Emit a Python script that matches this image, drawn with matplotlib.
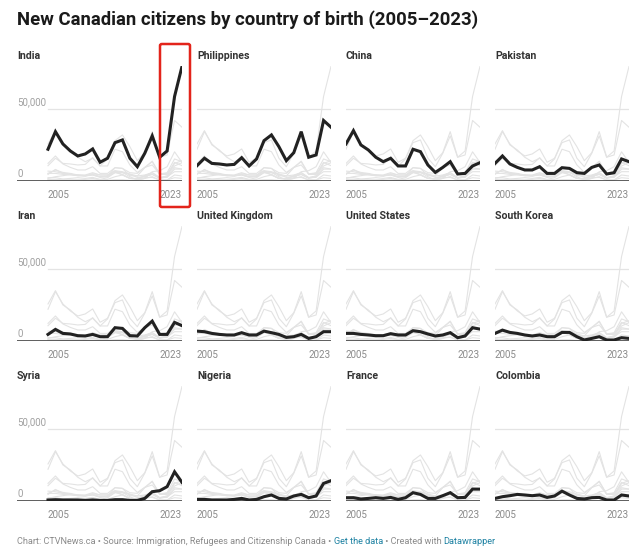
import matplotlib.pyplot as plt
import matplotlib.patches as mpatches
from matplotlib.transforms import blended_transform_factory
import numpy as np

plt.rcParams['font.family'] = ['Roboto', 'DejaVu Sans']

W, H = 640, 555

years = list(range(2005, 2024))

# new citizens, thousands
india = [22.0, 34.3, 25.7, 20.8, 17.3, 18.7, 22.2, 12.9, 15.7, 26.6,
         28.5, 15.7, 9.8, 19.2, 31.3, 16.4, 20.8, 58.9, 79.9]
philippines = [10.5, 15.7, 12.1, 11.7, 11.0, 11.4, 16.1, 10.3, 15.2, 28.0,
               32.0, 23.8, 14.0, 19.6, 34.3, 16.4, 18.0, 42.1, 37.4]
china = [25.7, 35.0, 25.0, 21.5, 16.4, 13.3, 15.7, 10.3, 10.3, 22.0,
         20.3, 11.0, 5.8, 9.3, 13.3, 4.7, 5.1, 10.3, 12.6]
pakistan = [12.1, 17.3, 11.7, 9.3, 7.5, 7.5, 9.8, 5.1, 5.1, 9.1,
            8.6, 5.6, 5.1, 9.3, 11.0, 4.7, 5.6, 15.2, 13.3]
iran = [4.4, 7.9, 5.1, 4.7, 3.5, 3.3, 4.4, 2.8, 2.8, 9.1,
        8.6, 3.5, 3.3, 9.1, 13.7, 4.4, 4.4, 12.8, 10.5]
uk = [6.7, 6.3, 5.1, 4.4, 4.0, 4.0, 5.6, 4.0, 4.0, 6.7,
      5.6, 4.4, 2.3, 2.8, 4.4, 1.6, 2.8, 6.3, 6.3]
us = [5.1, 5.1, 4.4, 4.0, 3.5, 3.5, 4.9, 4.0, 4.0, 7.0,
      6.3, 4.7, 3.3, 4.0, 5.6, 2.1, 3.3, 9.1, 8.1]
south_korea = [5.1, 7.4, 5.8, 5.1, 4.0, 3.3, 4.0, 2.8, 2.8, 5.8,
               5.8, 2.8, 0.5, 1.6, 2.8, 0.5, 0.5, 2.1, 1.6]
syria = [0.5, 0.7, 0.5, 0.5, 0.5, 0.2, 0.5, 0.2, 0.2, 0.7,
         0.7, 0.2, 0.2, 1.6, 6.3, 7.0, 9.8, 20.2, 12.8]
nigeria = [0.9, 0.9, 0.5, 0.5, 0.5, 0.9, 1.6, 0.5, 0.9, 2.8,
           4.0, 1.6, 1.2, 3.3, 4.4, 2.1, 3.3, 12.1, 14.0]
france = [2.1, 2.1, 1.2, 1.6, 2.1, 1.6, 2.3, 0.9, 2.1, 5.6,
          4.4, 1.6, 1.6, 3.5, 5.6, 2.1, 2.3, 8.1, 8.1]
colombia = [1.6, 2.8, 3.5, 4.4, 4.0, 3.5, 4.0, 2.3, 3.3, 6.7,
            4.0, 1.6, 1.2, 2.1, 2.3, 0.5, 0.5, 4.0, 3.3]

countries = ["India", "Philippines", "China", "Pakistan",
             "Iran", "United Kingdom", "United States", "South Korea",
             "Syria", "Nigeria", "France", "Colombia"]
series = [india, philippines, china, pakistan,
          iran, uk, us, south_korea,
          syria, nigeria, france, colombia]


def fx(px):
    return px / W


def fy(py):
    return 1 - py / H


fig = plt.figure(figsize=(W / 100, H / 100), dpi=100)

col_left = [48, 197, 346, 495]
col_w = 134
row_base = [180.7, 340.7, 500.7]
ymax = 80000
px_per_unit = 71.5 / 50000
row_h = ymax * px_per_unit
year_px = col_w / 18

for i, (name, vals) in enumerate(zip(countries, series)):
    r, c = divmod(i, 4)
    left = col_left[c]
    extra = 31 if c == 0 else 0
    ax = fig.add_axes([fx(left - extra), fy(row_base[r]),
                       (col_w + extra) / W, row_h / H])
    ax.set_xlim(2005 - extra / year_px, 2023)
    ax.set_ylim(0, ymax)
    ax.axis('off')

    ax.plot([2005, 2023], [50000, 50000], color='#e4e4e4', lw=0.9, zorder=1)
    for v in series:
        ax.plot(years, np.array(v) * 1000, color='#e3e3e3', lw=0.8, zorder=2)
    ax.plot(years, np.array(vals) * 1000, color='#222222', lw=2.2,
            zorder=4, solid_joinstyle='miter')
    ax.axhline(0, color='#333333', lw=1.1, zorder=3)

    if c == 0:
        tr = blended_transform_factory(ax.transAxes, ax.transData)
        ax.text(0, 51500, "50,000", transform=tr, ha='left', va='bottom',
                fontsize=7, color='#a0a0a0')
        ax.text(0, 1500, "0", transform=tr, ha='left', va='bottom',
                fontsize=7, color='#a0a0a0')

    ax.text(2005, -6500, "2005", ha='left', va='top', fontsize=7,
            color='#8a8a8a')
    ax.text(2023, -6500, "2023", ha='right', va='top', fontsize=7,
            color='#8a8a8a')

    title_x = 17 if c == 0 else left
    fig.text(fx(title_x), fy(row_base[r] - 124.5), name, ha='left',
             va='center', fontsize=7.6, fontweight='bold', color='#333333')

fig.text(fx(17), fy(20), "New Canadian citizens by country of birth (2005\u20132023)",
         ha='left', va='center', fontsize=13.3, fontweight='bold', color='#1a1a1a')

# footer with link-coloured parts
parts = [("Chart: CTVNews.ca \u2022 Source: Immigration, Refugees and Citizenship Canada \u2022 ", '#8a8a8a'),
         ("Get the data", '#1d81a2'),
         (" \u2022 Created with ", '#8a8a8a'),
         ("Datawrapper", '#1d81a2')]
renderer = fig.canvas.get_renderer()
x = 17
for txt, col in parts:
    t = fig.text(fx(x), fy(541), txt, ha='left', va='center', fontsize=6.6,
                 color=col)
    x += t.get_window_extent(renderer).width

# red highlight box around India's last years
fig.patches.append(mpatches.FancyBboxPatch(
    (fx(160), fy(207)), 30 / W, 163 / H,
    boxstyle="round,pad=0,rounding_size=0.003",
    transform=fig.transFigure, fill=False, edgecolor='#e3241b', lw=1.8,
    zorder=10))

fig.savefig("out.png", dpi=100, facecolor='white')
